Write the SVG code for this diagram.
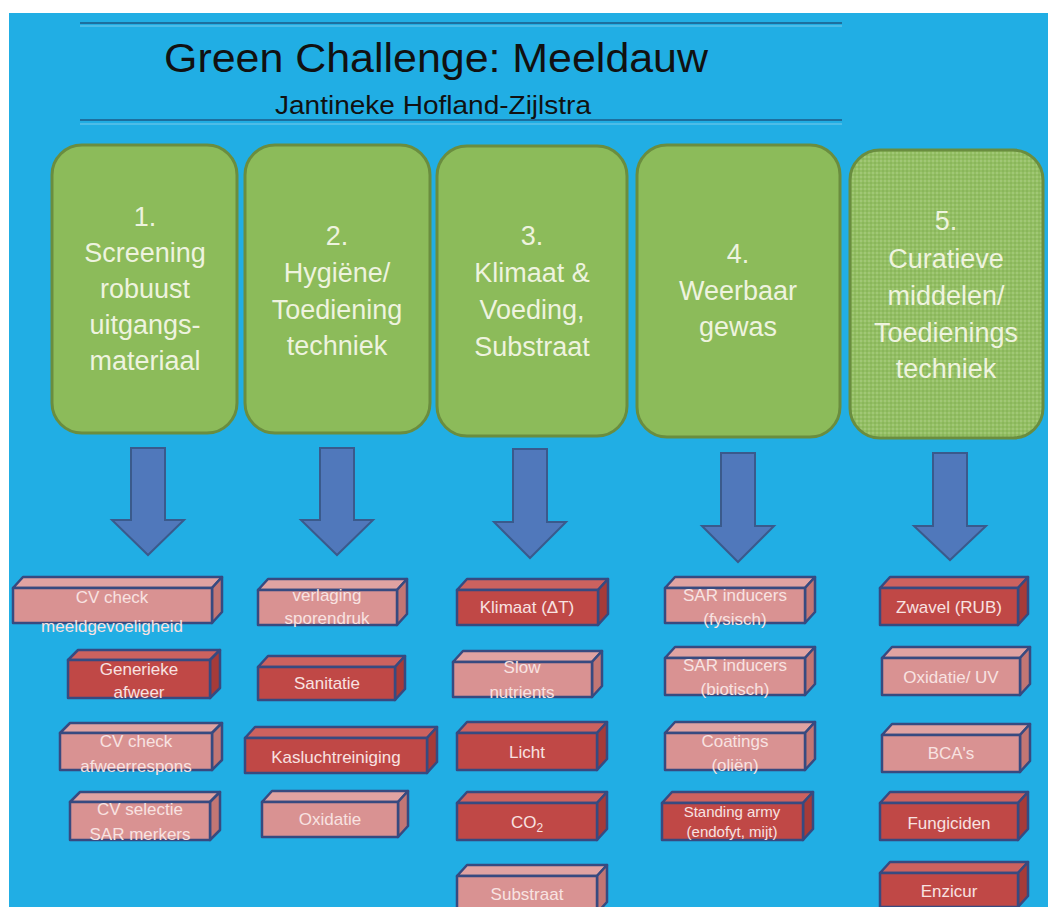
<svg xmlns="http://www.w3.org/2000/svg" width="1048" height="911" viewBox="0 0 1048 911">
<style>
.gbox{fill:#8cbb5a;stroke:#6a8d3f;stroke-width:3}
.gtxt{font-family:"Liberation Sans",Arial,sans-serif;font-size:27px;fill:#eef3df;text-anchor:middle}
.arrow{fill:#5078bb;stroke:#3a5a8c;stroke-width:2;stroke-linejoin:miter}
.lf{fill:#d99292}.lt{fill:#e0a3a2}.ls{fill:#c27674}
.df{fill:#c04846}.dt{fill:#cc625f}.ds{fill:#a63b39}
.edge{stroke:#374a80;stroke-width:2.5;stroke-linejoin:round}
.btxt{font-family:"Liberation Sans",Arial,sans-serif;font-size:17px;fill:#f8e2e1;text-anchor:middle}
.small{font-size:15px}
</style>
<defs>
<pattern id="dots" width="4" height="4" patternUnits="userSpaceOnUse">
<rect width="4" height="4" fill="#93bf63"/>
<circle cx="1" cy="1" r="0.9" fill="#a8cc80"/>
<circle cx="3" cy="3" r="0.9" fill="#86b257"/>
</pattern>
</defs>
<rect x="0" y="0" width="1048" height="911" fill="#ffffff"/>
<rect x="9" y="13" width="1039" height="894" fill="#21aee4"/>
<g id="title">
<line x1="80" y1="23" x2="842" y2="23" stroke="#1d6f9e" stroke-width="2"/>
<line x1="80" y1="26" x2="842" y2="26" stroke="#5cc0e8" stroke-width="1.5"/>
<text x="164" y="72" font-family="Liberation Sans,Arial,sans-serif" font-size="40" fill="#111111" textLength="544" lengthAdjust="spacingAndGlyphs">Green Challenge: Meeldauw</text>
<text x="275" y="114" font-family="Liberation Sans,Arial,sans-serif" font-size="25" fill="#111111" textLength="316" lengthAdjust="spacingAndGlyphs">Jantineke Hofland-Zijlstra</text>
<line x1="80" y1="120" x2="842" y2="120" stroke="#1d6f9e" stroke-width="2"/>
<line x1="80" y1="124" x2="842" y2="124" stroke="#5cc0e8" stroke-width="1.5"/>
</g>
<g id="cat1">
<rect class="gbox" x="52" y="145" width="185" height="288" rx="30"/>
<text class="gtxt" x="145" y="226">1.</text>
<text class="gtxt" x="145" y="262">Screening</text>
<text class="gtxt" x="145" y="298">robuust</text>
<text class="gtxt" x="145" y="334">uitgangs-</text>
<text class="gtxt" x="145" y="370">materiaal</text>
</g>
<g id="cat2">
<rect class="gbox" x="245" y="145" width="185" height="288" rx="30"/>
<text class="gtxt" x="337" y="245">2.</text>
<text class="gtxt" x="337" y="282">Hygiëne/</text>
<text class="gtxt" x="337" y="319">Toediening</text>
<text class="gtxt" x="337" y="355">techniek</text>
</g>
<g id="cat3">
<rect class="gbox" x="437" y="146" width="190" height="290" rx="30"/>
<text class="gtxt" x="532" y="245">3.</text>
<text class="gtxt" x="532" y="282">Klimaat &amp;</text>
<text class="gtxt" x="532" y="319">Voeding,</text>
<text class="gtxt" x="532" y="356">Substraat</text>
</g>
<g id="cat4">
<rect class="gbox" x="637" y="145" width="203" height="292" rx="30"/>
<text class="gtxt" x="738" y="263">4.</text>
<text class="gtxt" x="738" y="300">Weerbaar</text>
<text class="gtxt" x="738" y="336">gewas</text>
</g>
<g id="cat5">
<rect x="850" y="150" width="193" height="288" rx="30" fill="url(#dots)" stroke="#6a8d3f" stroke-width="3"/>
<text class="gtxt" x="946" y="230">5.</text>
<text class="gtxt" x="946" y="268">Curatieve</text>
<text class="gtxt" x="946" y="305">middelen/</text>
<text class="gtxt" x="946" y="342">Toedienings</text>
<text class="gtxt" x="946" y="378">techniek</text>
</g>
<g id="connectors">
<polygon class="arrow" points="131,448 165,448 165,520 184,520 148,555 112,520 131,520"/>
<polygon class="arrow" points="320,448 354,448 354,520 373,520 337,555 301,520 320,520"/>
<polygon class="arrow" points="513,449 547,449 547,522 566,522 530,558 494,522 513,522"/>
<polygon class="arrow" points="721,453 755,453 755,526 774,526 738,562 702,526 721,526"/>
<polygon class="arrow" points="933,453 967,453 967,526 986,526 950,560 914,526 933,526"/>
</g>
<!-- Column 1 -->
<g id="c1a">
<polygon class="lt edge" points="13,588 23,577 222,577 212,588"/>
<polygon class="ls edge" points="212,588 222,577 222,612 212,623"/>
<rect class="lf edge" x="13" y="588" width="199" height="35"/>
<text class="btxt" x="112" y="603">CV check</text>
<text class="btxt" x="112" y="632">meeldgevoeligheid</text>
</g>
<g id="c1b">
<polygon class="dt edge" points="68,660 78,650 220,650 210,660"/>
<polygon class="ds edge" points="210,660 220,650 220,688 210,698"/>
<rect class="df edge" x="68" y="660" width="142" height="38"/>
<text class="btxt" x="139" y="675">Generieke</text>
<text class="btxt" x="139" y="698">afweer</text>
</g>
<g id="c1c">
<polygon class="lt edge" points="60,733 70,723 222,723 212,733"/>
<polygon class="ls edge" points="212,733 222,723 222,760 212,770"/>
<rect class="lf edge" x="60" y="733" width="152" height="37"/>
<text class="btxt" x="136" y="747">CV check</text>
<text class="btxt" x="136" y="772">afweerrespons</text>
</g>
<g id="c1d">
<polygon class="lt edge" points="70,802 80,792 220,792 210,802"/>
<polygon class="ls edge" points="210,802 220,792 220,830 210,840"/>
<rect class="lf edge" x="70" y="802" width="140" height="38"/>
<text class="btxt" x="140" y="815">CV selectie</text>
<text class="btxt" x="140" y="840">SAR merkers</text>
</g>
<!-- Column 2 -->
<g id="c2a">
<polygon class="lt edge" points="258,590 268,579 407,579 397,590"/>
<polygon class="ls edge" points="397,590 407,579 407,614 397,625"/>
<rect class="lf edge" x="258" y="590" width="139" height="35"/>
<text class="btxt" x="327" y="601">verlaging</text>
<text class="btxt" x="327" y="624">sporendruk</text>
</g>
<g id="c2b">
<polygon class="dt edge" points="258,667 268,656 405,656 395,667"/>
<polygon class="ds edge" points="395,667 405,656 405,689 395,700"/>
<rect class="df edge" x="258" y="667" width="137" height="33"/>
<text class="btxt" x="327" y="689">Sanitatie</text>
</g>
<g id="c2c">
<polygon class="dt edge" points="245,738 255,727 437,727 427,738"/>
<polygon class="ds edge" points="427,738 437,727 437,762 427,773"/>
<rect class="df edge" x="245" y="738" width="182" height="35"/>
<text class="btxt" x="336" y="763">Kasluchtreiniging</text>
</g>
<g id="c2d">
<polygon class="lt edge" points="262,802 272,791 408,791 398,802"/>
<polygon class="ls edge" points="398,802 408,791 408,826 398,837"/>
<rect class="lf edge" x="262" y="802" width="136" height="35"/>
<text class="btxt" x="330" y="825">Oxidatie</text>
</g>
<!-- Column 3 -->
<g id="c3a">
<polygon class="dt edge" points="457,590 467,579 608,579 598,590"/>
<polygon class="ds edge" points="598,590 608,579 608,614 598,625"/>
<rect class="df edge" x="457" y="590" width="141" height="35"/>
<text class="btxt" x="527" y="613">Klimaat (ΔT)</text>
</g>
<g id="c3b">
<polygon class="lt edge" points="453,662 463,651 602,651 592,662"/>
<polygon class="ls edge" points="592,662 602,651 602,686 592,697"/>
<rect class="lf edge" x="453" y="662" width="139" height="35"/>
<text class="btxt" x="522" y="673">Slow</text>
<text class="btxt" x="522" y="698">nutrients</text>
</g>
<g id="c3c">
<polygon class="dt edge" points="457,733 467,722 607,722 597,733"/>
<polygon class="ds edge" points="597,733 607,722 607,759 597,770"/>
<rect class="df edge" x="457" y="733" width="140" height="37"/>
<text class="btxt" x="527" y="758">Licht</text>
</g>
<g id="c3d">
<polygon class="dt edge" points="457,803 467,792 607,792 597,803"/>
<polygon class="ds edge" points="597,803 607,792 607,829 597,840"/>
<rect class="df edge" x="457" y="803" width="140" height="37"/>
<text class="btxt" x="527" y="828">CO<tspan font-size="12" dy="4">2</tspan></text>
</g>
<g id="c3e">
<polygon class="lt edge" points="457,876 467,865 607,865 597,876"/>
<polygon class="ls edge" points="597,876 607,865 607,902 597,913"/>
<rect class="lf edge" x="457" y="876" width="140" height="37"/>
<text class="btxt" x="527" y="900">Substraat</text>
</g>
<!-- Column 4 -->
<g id="c4a">
<polygon class="lt edge" points="665,588 675,577 815,577 805,588"/>
<polygon class="ls edge" points="805,588 815,577 815,612 805,623"/>
<rect class="lf edge" x="665" y="588" width="140" height="35"/>
<text class="btxt" x="735" y="601">SAR inducers</text>
<text class="btxt" x="735" y="625">(fysisch)</text>
</g>
<g id="c4b">
<polygon class="lt edge" points="665,658 675,647 815,647 805,658"/>
<polygon class="ls edge" points="805,658 815,647 815,684 805,695"/>
<rect class="lf edge" x="665" y="658" width="140" height="37"/>
<text class="btxt" x="735" y="671">SAR inducers</text>
<text class="btxt" x="735" y="695">(biotisch)</text>
</g>
<g id="c4c">
<polygon class="lt edge" points="665,733 675,722 815,722 805,733"/>
<polygon class="ls edge" points="805,733 815,722 815,759 805,770"/>
<rect class="lf edge" x="665" y="733" width="140" height="37"/>
<text class="btxt" x="735" y="747">Coatings</text>
<text class="btxt" x="735" y="771">(oliën)</text>
</g>
<g id="c4d">
<polygon class="dt edge" points="662,803 672,792 813,792 803,803"/>
<polygon class="ds edge" points="803,803 813,792 813,829 803,840"/>
<rect class="df edge" x="662" y="803" width="141" height="37"/>
<text class="btxt small" x="732" y="817">Standing army</text>
<text class="btxt small" x="732" y="837">(endofyt, mijt)</text>
</g>
<!-- Column 5 -->
<g id="c5a">
<polygon class="dt edge" points="880,588 890,577 1028,577 1018,588"/>
<polygon class="ds edge" points="1018,588 1028,577 1028,614 1018,625"/>
<rect class="df edge" x="880" y="588" width="138" height="37"/>
<text class="btxt" x="949" y="613">Zwavel (RUB)</text>
</g>
<g id="c5b">
<polygon class="lt edge" points="882,658 892,647 1030,647 1020,658"/>
<polygon class="ls edge" points="1020,658 1030,647 1030,684 1020,695"/>
<rect class="lf edge" x="882" y="658" width="138" height="37"/>
<text class="btxt" x="951" y="683">Oxidatie/ UV</text>
</g>
<g id="c5c">
<polygon class="lt edge" points="882,735 892,724 1030,724 1020,735"/>
<polygon class="ls edge" points="1020,735 1030,724 1030,761 1020,772"/>
<rect class="lf edge" x="882" y="735" width="138" height="37"/>
<text class="btxt" x="951" y="759">BCA's</text>
</g>
<g id="c5d">
<polygon class="dt edge" points="880,803 890,792 1028,792 1018,803"/>
<polygon class="ds edge" points="1018,803 1028,792 1028,829 1018,840"/>
<rect class="df edge" x="880" y="803" width="138" height="37"/>
<text class="btxt" x="949" y="829">Fungiciden</text>
</g>
<g id="c5e">
<polygon class="dt edge" points="880,873 890,862 1028,862 1018,873"/>
<polygon class="ds edge" points="1018,873 1028,862 1028,896 1018,907"/>
<rect class="df edge" x="880" y="873" width="138" height="34"/>
<text class="btxt" x="949" y="897">Enzicur</text>
</g>
<rect x="0" y="907" width="1048" height="4" fill="#ffffff"/>
</svg>
